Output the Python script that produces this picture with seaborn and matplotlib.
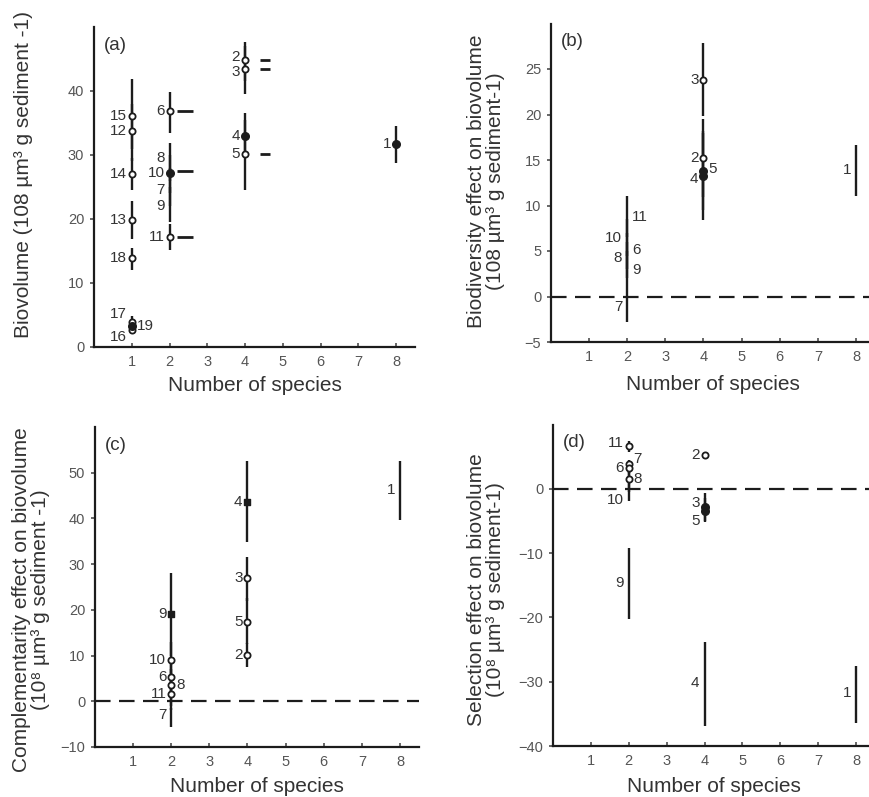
import numpy as np
import pandas as pd
import matplotlib
matplotlib.use("Agg")
import matplotlib.pyplot as plt
import seaborn as sns

# ---------------- data ----------------
# (a) Biovolume
a_rich = [1, 1, 1, 1, 1, 1, 1, 1, 2, 2, 2, 2, 2, 2, 4, 4, 4, 4, 8]
a_label = ['15', '12', '14', '13', '18', '17', '16', '19', '6', '8', '10', '7', '9', '11', '2', '3', '4', '5', '1']
a_mean = [36.1, 33.7, 27.0, 19.8, 13.9, 3.9, 2.6, 3.3, 36.9, 28.8, 27.2, 24.9, 22.3, 17.2, 44.8, 43.5, 33.0, 30.2, 31.7]
a_lo = [31.0, 29.0, 24.5, 16.8, 12.0, 3.0, 2.1, 2.5, 33.5, 26.0, 24.0, 22.0, 19.5, 15.2, 41.5, 39.5, 29.5, 24.6, 28.8]
a_hi = [41.9, 38.0, 29.5, 22.8, 15.4, 4.8, 3.1, 4.2, 39.8, 31.9, 30.0, 28.0, 25.0, 19.2, 47.6, 47.0, 36.6, 35.5, 34.6]
a_mark = ['o', 'o', 'o', 'o', 'o', 'o', 'o', 'f', 'o', '', 'f', '', '', 'o', 'o', 'o', 'f', 'o', 'f']
# expected (short horizontal dashes) in (a)
a_dash_rich = [2, 2, 2, 4, 4, 4]
a_dash_val = [36.9, 27.5, 17.2, 44.8, 43.5, 30.2]

# (b) Biodiversity effect
b_rich = [2, 2, 2, 2, 2, 2, 4, 4, 4, 4, 8]
b_label = ['11', '10', '6', '8', '9', '7', '3', '2', '4', '5', '1']
b_mean = [8.7, 6.4, 5.1, 4.2, 2.9, -1.2, 23.8, 15.2, 13.2, 13.8, 13.9]
b_lo = [6.5, 4.5, 3.0, 2.0, 0.5, -2.8, 19.8, 10.9, 8.4, 9.5, 11.0]
b_hi = [11.0, 8.5, 7.0, 6.0, 5.0, 0.5, 27.9, 19.5, 18.0, 18.2, 16.7]
b_mark = ['', '', '', '', '', '', 'o', 'o', 'f', 'f', '']

# (c) Complementarity effect
c_rich = [2, 2, 2, 2, 2, 2, 4, 4, 4, 4, 8]
c_label = ['9', '10', '6', '8', '11', '7', '4', '3', '5', '2', '1']
c_mean = [19.2, 9.0, 5.3, 3.5, 1.7, -3.1, 43.6, 26.9, 17.4, 10.1, 46.2]
c_lo = [10.0, 4.0, 1.0, -1.0, -2.0, -5.6, 34.9, 22.0, 12.5, 7.5, 39.6]
c_hi = [28.1, 13.0, 9.0, 7.0, 5.0, -1.5, 52.6, 31.6, 22.5, 12.7, 52.6]
c_mark = ['s', 'o', 'o', 'o', 'o', '', 's', 'o', 'o', 'o', '']

# (d) Selection effect
d_rich = [2, 2, 2, 2, 2, 2, 4, 4, 4, 4, 8]
d_label = ['11', '7', '6', '8', '10', '9', '2', '3', '5', '4', '1']
d_mean = [6.6, 3.8, 3.2, 1.6, 0.4, -14.6, 5.2, -2.8, -3.4, -30.2, -31.8]
d_lo = [5.8, 2.5, 1.5, -0.5, -1.9, -20.3, 4.8, -5.0, -5.2, -36.9, -36.4]
d_hi = [7.4, 4.5, 4.0, 3.0, 2.0, -9.2, 5.6, -0.6, -1.5, -23.8, -27.5]
d_mark = ['o', 'o', 'o', 'o', '', '', 'o', 'f', 'f', '', '']

x_ticks = [1, 2, 3, 4, 5, 6, 7, 8]

# ---------------- style ----------------
sns.set_theme(style="ticks")
plt.rcParams['font.family'] = ['Liberation Sans', 'DejaVu Sans']

INK = '#1c1c1c'
GREY = '#555555'

fig = plt.figure(figsize=(8.7, 7.97), dpi=100)
W, H = 870, 797


def make_ax(x0, x1, ybot, ytop):
    return fig.add_axes([x0 / W, 1 - ybot / H, (x1 - x0) / W, (ybot - ytop) / H])


def panel(ax, rich, labels, mean, lo, hi, mark, sides, dy, ylim, yticks,
          ylabel, letter, zero, ylab_x, ylab_y, xlab_y):
    df = pd.DataFrame(dict(rich=rich, label=labels, mean=mean, lo=lo, hi=hi, mark=mark))
    ax.vlines(df['rich'], df['lo'], df['hi'], color=INK, lw=1.7, zorder=2)
    if zero:
        ax.axhline(0, color=INK, lw=1.6, dashes=(7, 3.8), zorder=1)
    sub = df[df['mark'] == 'o']
    if len(sub):
        sns.scatterplot(data=sub, x='rich', y='mean', marker='o', s=20, color='white',
                        edgecolor=INK, linewidth=1.3, ax=ax, zorder=3, legend=False)
    sub = df[df['mark'] == 'f']
    if len(sub):
        sns.scatterplot(data=sub, x='rich', y='mean', marker='o', s=30, color=INK,
                        edgecolor=INK, linewidth=1, ax=ax, zorder=3, legend=False)
    sub = df[df['mark'] == 's']
    if len(sub):
        sns.scatterplot(data=sub, x='rich', y='mean', marker='s', s=24, color=INK,
                        edgecolor=INK, linewidth=1, ax=ax, zorder=3, legend=False)
    for _, r in df.iterrows():
        side = sides.get(r['label'], 'l')
        off = 0.13 if side == 'r' else -0.13
        ax.text(r['rich'] + off, r['mean'] + dy.get(r['label'], 0), r['label'],
                ha='left' if side == 'r' else 'right', va='center',
                fontsize=11, color='#333333')
    ax.set_xlim(0, 8.5)
    ax.set_ylim(*ylim)
    ax.set_xticks(x_ticks)
    ax.set_yticks(yticks)
    ax.tick_params(axis='x', direction='in', length=3, colors=GREY, labelsize=10.5, pad=6)
    ax.tick_params(axis='y', direction='out', length=3, colors=GREY, labelsize=10.5, pad=4)
    for s in ['top', 'right']:
        ax.spines[s].set_visible(False)
    for s in ['left', 'bottom']:
        ax.spines[s].set_color(INK)
        ax.spines[s].set_linewidth(1.6)
    ax.set_xlabel('Number of species', fontsize=15, color='#333333')
    ax.set_ylabel(ylabel, fontsize=15, color='#333333', linespacing=1.0)
    ax.xaxis.set_label_coords(0.5, xlab_y)
    ax.yaxis.set_label_coords(ylab_x, ylab_y)
    ax.text(0.03, 0.97, letter, transform=ax.transAxes, ha='left', va='top',
            fontsize=13.5, color='#333333')


# (a)
ax_a = make_ax(94, 415, 347, 27)
panel(ax_a, a_rich, a_label, a_mean, a_lo, a_hi, a_mark,
      sides={'19': 'r'}, dy={'17': 1.2, '16': -1.0, '8': 0.8, '7': -0.3, '9': -0.3,
                             '2': 0.5, '3': -0.5},
      ylim=(0, 50), yticks=[0, 10, 20, 30, 40],
      ylabel='Biovolume (108 µm³ g sediment -1)', letter='(a)', zero=False,
      ylab_x=-0.19, ylab_y=0.54, xlab_y=-0.09)
for xr, yv in zip(a_dash_rich, a_dash_val):
    if xr == 2:
        ax_a.hlines(yv, xr + 0.2, xr + 0.62, color=INK, lw=2.0)
    else:
        ax_a.hlines(yv, xr + 0.4, xr + 0.66, color=INK, lw=2.0)

# (b)
ax_b = make_ax(551, 875, 342, 23.5)
panel(ax_b, b_rich, b_label, b_mean, b_lo, b_hi, b_mark,
      sides={'11': 'r', '6': 'r', '9': 'r', '5': 'r'}, dy={'4': -0.3, '5': 0.2},
      ylim=(-5, 30), yticks=[-5, 0, 5, 10, 15, 20, 25],
      ylabel='Biodiversity effect on biovolume\n(108 µm³ g sediment-1)', letter='(b)', zero=True,
      ylab_x=-0.142, ylab_y=0.505, xlab_y=-0.104)

# (c)
ax_c = make_ax(95, 419, 747, 427)
panel(ax_c, c_rich, c_label, c_mean, c_lo, c_hi, c_mark,
      sides={'8': 'r'}, dy={},
      ylim=(-10, 60), yticks=[-10, 0, 10, 20, 30, 40, 50],
      ylabel='Complementarity effect on biovolume\n(10⁸ µm³ g sediment -1)', letter='(c)', zero=True,
      ylab_x=-0.139, ylab_y=0.46, xlab_y=-0.094)

# (d)
ax_d = make_ax(553, 875, 746, 424.5)
panel(ax_d, d_rich, d_label, d_mean, d_lo, d_hi, d_mark,
      sides={'7': 'r', '8': 'r'}, dy={'11': 0.6, '10': -2.2, '3': 0.6, '5': -1.6, '7': 0.8},
      ylim=(-40, 10), yticks=[-40, -30, -20, -10, 0],
      ylabel='Selection effect on biovolume\n(10⁸ µm³ g sediment-1)', letter='(d)', zero=True,
      ylab_x=-0.149, ylab_y=0.486, xlab_y=-0.097)

fig.savefig('out.png', dpi=100)
